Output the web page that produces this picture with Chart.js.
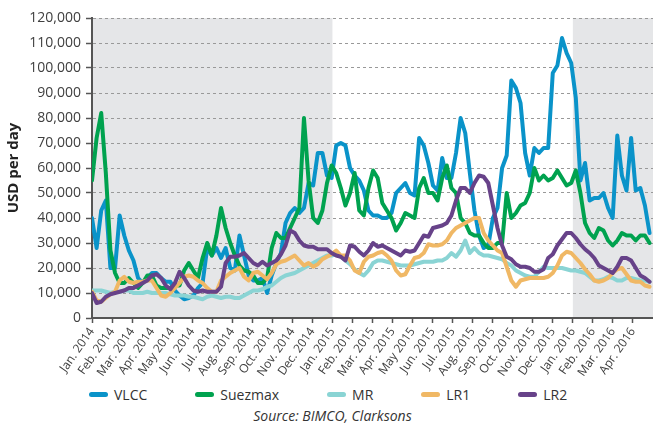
<!DOCTYPE html>
<html>
<head>
<meta charset="utf-8">
<script src="https://cdn.jsdelivr.net/npm/chart.js@4.4.1/dist/chart.umd.min.js"></script>
<style>
  body { margin: 0; background: #fff; font-family: "Open Sans", sans-serif; }
  #wrap { position: relative; width: 653px; height: 425px; }
  #chartBox { position: absolute; left: 0; top: 0; width: 653px; height: 380px; }
  #legend { position: absolute; left: 89px; top: 385px; display: flex; gap: 48px; font-size: 14px; color: #333; }
  #legend .item { display: flex; align-items: center; }
  #legend .mark { width: 19px; height: 5px; border-radius: 3px; margin-right: 6px; }
  #source { position: absolute; left: 0; width: 665px; top: 406px; text-align: center; font-style: italic; font-size: 14px; color: #333; }
</style>
</head>
<body>
<div id="wrap">
  <div id="chartBox"><canvas id="tankerChart"></canvas></div>
  <div id="legend"></div>
  <div id="source">Source: BIMCO, Clarksons</div>
</div>
<script>
// weekly earnings, USD per day (thousands), first week of Jan. 2014 onwards
const vlcc = [40, 28, 43, 47, 20, 20, 41, 33, 27, 23, 16, 14, 16, 18, 18, 16, 14.5, 14.5, 11, 9,
  7.5, 8, 9, 12, 14, 28, 25, 28, 24, 28, 20, 19, 33, 25, 17, 15, 15, 16, 10, 17,
  22, 26, 38, 42, 44, 42, 44, 54, 53, 66, 66, 57, 56, 69, 70, 69, 60, 57, 55, 51,
  43, 41, 41, 40, 40, 42, 50, 52, 54, 50, 49, 72, 69, 62, 53, 51, 64, 56, 56, 66,
  80, 74, 58, 43, 33, 28, 29, 40, 44, 60, 65, 95, 92, 86, 66, 57, 68, 66, 68, 68,
  98, 101, 112, 106, 102, 88, 55, 62, 47, 48, 48, 50, 44, 40, 73, 57, 51, 72, 51, 52,
  45, 34];
const suezmax = [55, 72, 82, 58, 27, 18, 14, 14, 16, 14, 12, 14, 17, 17, 13, 12, 12, 12, 13, 13,
  19, 22, 19, 16, 24, 30, 25, 33, 44, 36, 30, 25, 21, 19, 18.5, 17, 14, 14, 16, 28,
  34, 32, 32, 36, 40, 44, 80, 55, 40, 38, 43, 54, 61, 58, 52, 45, 50, 58, 43, 41,
  52, 59, 56, 46, 43, 40, 35, 38, 42, 41, 40, 52, 56, 50, 50, 47, 56, 61, 52, 50,
  40, 38, 34, 33, 33, 30, 28, 28, 30, 30, 50, 40, 42, 45, 46, 50, 60, 55, 57, 55,
  56, 59, 56, 53, 54, 59, 50, 38, 34, 32, 36, 35, 31, 29, 31, 34, 33, 33, 31, 33,
  33, 30];
const mr = [11, 11, 11, 10.5, 10, 10.5, 10.5, 11, 11, 10, 10, 10, 10.5, 10, 10, 10, 10, 9.5, 9, 9,
  9, 8.5, 8.5, 8, 7.5, 8.5, 9, 8.5, 8, 8.5, 8.5, 8, 8, 9, 10, 11, 11, 11.5, 12.5, 13,
  14.5, 16, 17, 17.5, 18, 19, 20, 21, 22, 23, 24, 25, 25, 25.5, 24.5, 23, 21.5, 19.5, 18, 17,
  19, 22, 23, 23, 22.5, 22, 21.5, 21, 21, 21, 21.5, 22, 22.5, 22.5, 22.5, 23, 23, 24, 26, 24.5,
  27, 31, 26, 28, 26, 25, 25, 24.5, 24, 23.5, 22, 21, 19, 18, 17, 16.5, 16.5, 18.5, 20.5, 20,
  20, 20, 20, 19.5, 19, 19, 18.5, 18, 16.5, 15, 15, 15.5, 16.5, 16, 15, 15, 16, 16, 15.5, 15,
  15, 14.5];
const lr1 = [10.5, 7, 6.5, 8, 9.5, 10.5, 15, 16.5, 14.5, 14, 14.5, 14.5, 15, 15, 12, 9, 8.5, 10, 12, 14,
  16.5, 17, 16.5, 15, 14, 12, 10.5, 10.5, 15, 16.5, 18, 19, 20, 16.5, 15, 18, 18.5, 17, 15.5, 18,
  21.5, 22.5, 23, 24, 25, 23, 21, 22, 20.5, 21.5, 23.5, 24.5, 25.5, 27, 25, 25, 23, 19, 18, 22.5,
  24.5, 25, 26, 26.5, 25, 23, 19, 17, 17.5, 21, 24, 24.5, 26, 29.5, 29, 29, 29.5, 31, 34, 36,
  37, 38, 39, 40, 40, 34, 31, 29, 27, 26, 20.5, 15, 12.5, 15, 15.5, 16, 16, 16, 16, 16.5,
  18, 21, 25, 26.5, 26, 24, 22, 19.5, 17.5, 15, 14.5, 15, 16, 18, 19.5, 20, 17.5, 15, 14.5, 14.5,
  13, 12.5];
const lr2 = [10, 6, 6.5, 8.5, 9.5, 10, 10.5, 11, 12, 12, 13, 14, 15, 17, 17.5, 16, 13, 11.5, 14, 18.5,
  16, 13, 11, 10.5, 11, 10.5, 10.5, 10.5, 12.5, 22, 24.5, 24.5, 25, 26, 24, 22, 21, 22.5, 21, 22,
  23, 25.5, 29, 35, 34, 31, 29, 28.5, 28.5, 27.5, 27.5, 27.5, 26, 25, 24.5, 23, 29, 28.5, 26.5, 25,
  27, 30, 28.5, 29, 28, 27, 26, 25, 27, 26.5, 27, 30, 33, 32.5, 36, 36.5, 37, 38, 41, 47,
  52, 52, 50, 54, 57, 56.5, 54, 45, 36, 29, 24.5, 23.5, 21.5, 20.5, 20.5, 20, 18.5, 18.5, 19.5, 24,
  25.5, 29, 31.5, 34, 34, 32, 29.5, 27.5, 26, 24, 21, 20, 19, 18, 20.5, 24, 24, 23, 20, 17,
  16, 14.5];

const seriesNames = ['VLCC', 'Suezmax', 'MR', 'LR1', 'LR2'];
const seriesColors = ['#0a93c9', '#00a24f', '#8ad4d4', '#f0b865', '#674289'];
const seriesValues = [vlcc, suezmax, mr, lr1, lr2];

const monthLabels = ['Jan. 2014', 'Feb. 2014', 'Mar. 2014', 'Apr. 2014', 'May 2014', 'Jun. 2014',
  'Jul. 2014', 'Aug. 2014', 'Sep. 2014', 'Oct. 2014', 'Nov. 2014', 'Dec. 2014',
  'Jan. 2015', 'Feb. 2015', 'Mar. 2015', 'Apr. 2015', 'May 2015', 'Jun. 2015',
  'Jul. 2015', 'Aug. 2015', 'Sep. 2015', 'Oct. 2015', 'Nov. 2015', 'Dec. 2015',
  'Jan. 2016', 'Feb. 2016', 'Mar. 2016', 'Apr. 2016'];

// shaded periods, in months from Jan. 2014
const shadedRanges = [[0, 12], [24, 28]];

const weekInMonths = 7 / 30.4375;

let datasets = seriesNames.map((name, i) => ({
  label: name,
  data: seriesValues[i].map((v, w) => ({ x: w * weekInMonths, y: v * 1000 })),
  borderColor: seriesColors[i],
  backgroundColor: seriesColors[i],
  borderWidth: 4,
  pointRadius: 0,
  tension: 0,
  borderJoinStyle: 'round',
  borderCapStyle: 'round',
  order: seriesNames.length - i
}));

const shading = {
  id: 'shading',
  beforeDraw(chart) {
    const { ctx, chartArea, scales } = chart;
    ctx.save();
    ctx.fillStyle = '#e5e6e8';
    shadedRanges.forEach(r => {
      let x0 = scales.x.getPixelForValue(r[0]);
      let x1 = Math.min(scales.x.getPixelForValue(r[1]), chartArea.right);
      ctx.fillRect(x0, chartArea.top, x1 - x0, chartArea.bottom - chartArea.top);
    });
    ctx.restore();
  }
};

let ctx = document.getElementById('tankerChart').getContext('2d');
let myChart = new Chart(ctx, {
  type: 'line',
  data: { datasets: datasets },
  plugins: [shading],
  options: {
    responsive: true,
    maintainAspectRatio: false,
    animation: false,
    layout: { padding: { top: 18, right: 0, left: 0, bottom: 0 } },
    plugins: { legend: { display: false }, tooltip: { enabled: false } },
    scales: {
      x: {
        type: 'linear',
        min: 0,
        max: 28,
        afterBuildTicks: scale => { scale.ticks = monthLabels.map((_, i) => ({ value: i })); },
        afterFit: scale => { scale.height = 62; },
        ticks: {
          autoSkip: false,
          minRotation: 55,
          maxRotation: 55,
          padding: 2,
          color: '#404040',
          font: { family: 'Open Sans', size: 12 },
          callback: v => monthLabels[v]
        },
        grid: { drawOnChartArea: false, tickLength: 5, tickColor: '#555', tickWidth: 1.5 },
        border: { color: '#555', width: 2 }
      },
      y: {
        min: 0,
        max: 120000,
        afterFit: scale => { scale.width = 92; },
        ticks: {
          stepSize: 10000,
          padding: 5,
          color: '#404040',
          font: { family: 'Open Sans', size: 14 },
          callback: v => v.toLocaleString('en-US')
        },
        grid: { color: '#999', lineWidth: 1, tickLength: 6, tickColor: '#555', tickWidth: 1.5 },
        border: { color: '#555', width: 2, dash: [3, 3] },
        title: {
          display: true,
          text: 'USD per day',
          color: '#222',
          font: { family: 'Open Sans', size: 15, weight: 'bold' },
          padding: { top: 5, bottom: 0 }
        }
      }
    }
  }
});

// legend below the chart
let legendBox = document.getElementById('legend');
seriesNames.forEach((name, i) => {
  let item = document.createElement('div');
  item.className = 'item';
  item.innerHTML = '<span class="mark" style="background:' + seriesColors[i] + '"></span>' + name;
  legendBox.appendChild(item);
});
</script>
</body>
</html>
